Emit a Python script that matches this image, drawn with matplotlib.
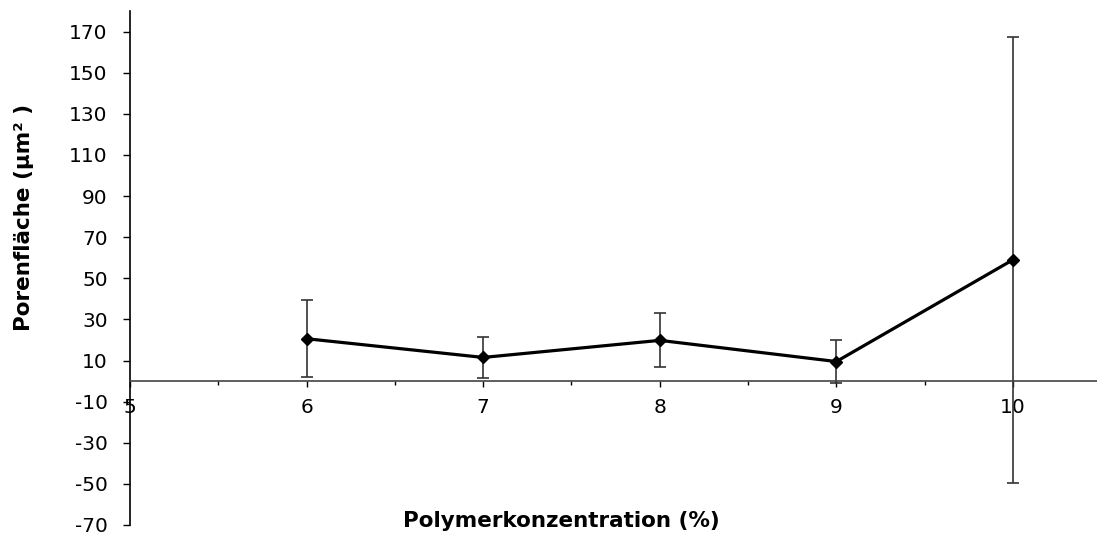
import numpy as np
import matplotlib
matplotlib.use("Agg")
from matplotlib import pyplot as plt
from matplotlib.ticker import MultipleLocator

# data
konz = [6, 7, 8, 9, 10]
flaeche = [20.6, 11.5, 19.8, 9.5, 59.0]
fehler = [18.8, 10.0, 13.1, 10.5, 108.5]

y_ticks = list(range(-70, 171, 20))
x_ticks = [5, 6, 7, 8, 9, 10]

plt.rcParams['font.family'] = ['DejaVu Sans']
plt.rcParams['axes.unicode_minus'] = False

fig = plt.figure(figsize=(10.97, 5.37), dpi=100)
ax = fig.add_axes([130/1097, 12/537, 1 - 130/1097, 1 - 23/537])

ax.errorbar(konz, flaeche, yerr=fehler, fmt='none', ecolor='#333333',
            elinewidth=1.2, capsize=4, capthick=1.2, zorder=2)
ax.plot(konz, flaeche, color='black', lw=2.3, marker='D', ms=6,
        markerfacecolor='black', zorder=3)

ax.set_xlim(5, 10.476)
ax.set_ylim(-70, 180)
ax.set_yticks(y_ticks)
ax.set_xticks(x_ticks)
ax.xaxis.set_minor_locator(MultipleLocator(0.5))

for s in ['top', 'right']:
    ax.spines[s].set_visible(False)
ax.spines['bottom'].set_position(('data', 0))
ax.spines['bottom'].set_color('#444444')
ax.spines['left'].set_color('black')
ax.spines['bottom'].set_linewidth(1.2)
ax.spines['left'].set_linewidth(1.2)

ax.tick_params(axis='y', direction='out', length=5, width=1, pad=11,
               labelsize=14.5)
ax.tick_params(axis='x', which='major', direction='out', length=4, width=1,
               pad=8, labelsize=14.5)
ax.tick_params(axis='x', which='minor', direction='out', length=3, width=1)

fig.text(561/1097, 1 - 521/537, 'Polymerkonzentration (%)', ha='center',
         va='center', fontsize=15.5, fontweight='bold')
fig.text(24/1097, 1 - 217/537, 'Porenfläche (µm² )', ha='center',
         va='center', rotation=90, fontsize=15.5, fontweight='bold')

fig.savefig('out.png', dpi=100)
